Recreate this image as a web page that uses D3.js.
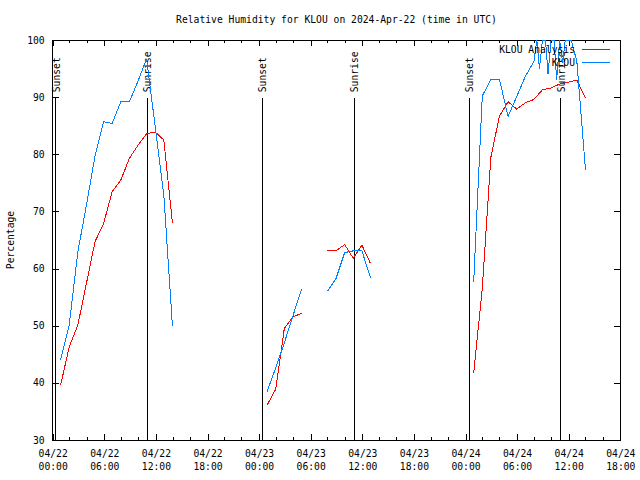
<!DOCTYPE html>
<html>
<head>
<meta charset="utf-8">
<script src="https://cdn.jsdelivr.net/npm/d3@7"></script>
<style>
  body { margin: 0; background: #fff; }
  text { font-family: "DejaVu Sans Mono", monospace; font-size: 9.7px; fill: #000; }
  line, rect, path { shape-rendering: crispEdges; }
</style>
</head>
<body>
<div id="chart"></div>
<script>
// hours after 2024-04-22 00:00 UTC, null value = gap in the record
var analysisHours = [0.92, 1.92, 2.92, 3.92, 4.92, 5.92, 6.92, 7.92, 8.92, 9.92, 10.92, 11.92, 12.92, 13.92, 14.5,
    24.93, 25.93, 26.93, 27.93, 28.93, 30.4,
    31.95, 32.95, 33.95, 34.95, 35.95, 36.95, 42,
    48.95, 49.95, 50.95, 51.95, 52.95, 53.95, 54.95, 55.95, 56.95, 57.95, 58.95, 59.95, 60.95, 61.95]
var analysisRH = [39.6, 46.3, 50.1, 57.4, 64.7, 67.9, 73.5, 75.5, 79.3, 81.6, 83.6, 83.9, 82.5, 68.0, null,
    36.1, 38.9, 49.5, 51.5, 52.2, null,
    63.1, 63.1, 64.2, 61.8, 64.1, 60.9, null,
    41.7, 56.5, 79.5, 86.7, 89.2, 87.9, 89.0, 89.6, 91.3, 91.6, 92.3, 92.6, 93.0, 89.8]

var klouHours = [0.92, 1.92, 2.92, 3.92, 4.92, 5.92, 6.92, 7.92, 8.92, 9.92, 10.92, 11.92, 12.92, 13.92, 14.5,
    24.93, 25.93, 26.93, 27.93, 28.93, 30.4,
    31.95, 32.95, 33.95, 34.95, 35.95, 36.95, 42,
    48.95, 49.95, 50.95, 51.95, 52.95, 53.95, 54.95, 55.95,
    56.3, 56.6, 56.95, 57.3, 57.6, 57.95, 58.3, 58.6, 58.95, 59.3, 59.6, 59.95, 60.3, 60.95, 61.95]
var klouRH = [44.0, 50.1, 62.9, 71.1, 79.7, 85.7, 85.4, 89.2, 89.2, 92.8, 96.7, 84.8, 72.9, 50.0, null,
    38.5, 42.6, 47.0, 51.7, 56.4, null,
    56.0, 58.3, 62.8, 63.1, 63.1, 58.4, null,
    57.6, 90.2, 93.1, 93.1, 86.6, 90.1, 93.6, 96.2,
    100, 95, 100, 100, 94, 100, 100, 93, 100, 96, 100, 100, 100, 96.2, 77.3]

var sunsetHours = [0.35, 24.37, 48.44]
var sunriseHours = [11.0, 35.07, 59.07]

var tickHours = [0, 6, 12, 18, 24, 30, 36, 42, 48, 54, 60, 66]
var tickDays = ["04/22", "04/22", "04/22", "04/22", "04/23", "04/23", "04/23", "04/23", "04/24", "04/24", "04/24", "04/24"]
var tickTimes = ["00:00", "06:00", "12:00", "18:00", "00:00", "06:00", "12:00", "18:00", "00:00", "06:00", "12:00", "18:00"]
var minorHours = d3.range(0, 67, 2)
var yTicks = [30, 40, 50, 60, 70, 80, 90, 100]

var W = 640, H = 480
var pl = 52.7, pr = 620.3, pt = 40, pb = 440

var svg = d3.select("#chart").append("svg")
    .attr("width", W).attr("height", H)

var x = d3.scaleLinear().domain([0, 66]).range([pl, pr])
var y = d3.scaleLinear().domain([30, 100]).range([pb, pt])

svg.append("defs").append("clipPath").attr("id", "plotclip")
    .append("rect").attr("x", pl).attr("y", pt)
    .attr("width", pr - pl).attr("height", pb - pt)

// title
svg.append("text").attr("x", (pl + pr) / 2).attr("y", 23)
    .attr("text-anchor", "middle")
    .text("Relative Humidity for KLOU on 2024-Apr-22 (time in UTC)")

// y label
svg.append("text")
    .attr("transform", "translate(14," + ((pt + pb) / 2) + ") rotate(-90)")
    .attr("text-anchor", "middle")
    .text("Percentage")

// minor ticks (bottom and top)
var minor = svg.append("g").attr("stroke", "#000").attr("stroke-width", 1)
minorHours.forEach(function (h) {
    if (tickHours.indexOf(h) >= 0) return
    minor.append("line").attr("x1", x(h)).attr("x2", x(h)).attr("y1", pb).attr("y2", pb - 3)
    minor.append("line").attr("x1", x(h)).attr("x2", x(h)).attr("y1", pt).attr("y2", pt + 3)
})

var xb = svg.append("g").attr("transform", "translate(0," + pb + ")")
    .call(d3.axisBottom(x).tickValues(tickHours).tickSizeInner(-6).tickSizeOuter(0).tickPadding(17).tickFormat(""))
xb.selectAll(".tick text").each(function (d, i) {
    var t = d3.select(this)
    t.append("tspan").attr("x", 0).attr("dy", "0em").text(tickDays[i])
    t.append("tspan").attr("x", 0).attr("dy", "1.35em").text(tickTimes[i])
})
svg.append("g").attr("transform", "translate(0," + pt + ")")
    .call(d3.axisTop(x).tickValues(tickHours).tickSizeInner(-6).tickSizeOuter(0).tickFormat(""))

svg.append("g").attr("transform", "translate(" + pl + ",0)")
    .call(d3.axisLeft(y).tickValues(yTicks).tickSizeInner(-6).tickSizeOuter(0).tickPadding(8))
svg.append("g").attr("transform", "translate(" + pr + ",0)")
    .call(d3.axisRight(y).tickValues(yTicks).tickSizeInner(-6).tickSizeOuter(0).tickFormat(""))

svg.selectAll(".domain").remove()
svg.selectAll(".tick text").attr("font-family", null).attr("font-size", null)

svg.append("rect").attr("x", pl).attr("y", pt)
    .attr("width", pr - pl).attr("height", pb - pt)
    .attr("fill", "none").attr("stroke", "#000")

// sunset / sunrise markers
function marker(h, label) {
    svg.append("line").attr("x1", x(h)).attr("x2", x(h))
        .attr("y1", pb).attr("y2", y(89.8))
        .attr("stroke", "#000")
    svg.append("text")
        .attr("transform", "translate(" + (x(h) + 4) + "," + (y(89.8) - 6) + ") rotate(-90)")
        .attr("text-anchor", "start")
        .text(label)
}
sunsetHours.forEach(function (h) { marker(h, "Sunset") })
sunriseHours.forEach(function (h) { marker(h, "Sunrise") })

var line = d3.line()
    .defined(function (d) { return d[1] != null })
    .x(function (d) { return x(d[0]) })
    .y(function (d) { return y(d[1]) })

var plot = svg.append("g").attr("clip-path", "url(#plotclip)")
plot.append("path").datum(d3.zip(analysisHours, analysisRH))
    .attr("d", line).attr("fill", "none").attr("stroke", "#ff0000").attr("stroke-width", 1)
plot.append("path").datum(d3.zip(klouHours, klouRH))
    .attr("d", line).attr("fill", "none").attr("stroke", "#0080ff").attr("stroke-width", 1)

// legend
var legend = [["KLOU Analysis", "#ff0000"], ["KLOU", "#0080ff"]]
legend.forEach(function (l, i) {
    var ly = 49 + i * 13
    svg.append("text").attr("x", 575).attr("y", ly + 3.5)
        .attr("text-anchor", "end").text(l[0])
    svg.append("line").attr("x1", 582).attr("x2", 610).attr("y1", ly).attr("y2", ly)
        .attr("stroke", l[1])
})
</script>
</body>
</html>
